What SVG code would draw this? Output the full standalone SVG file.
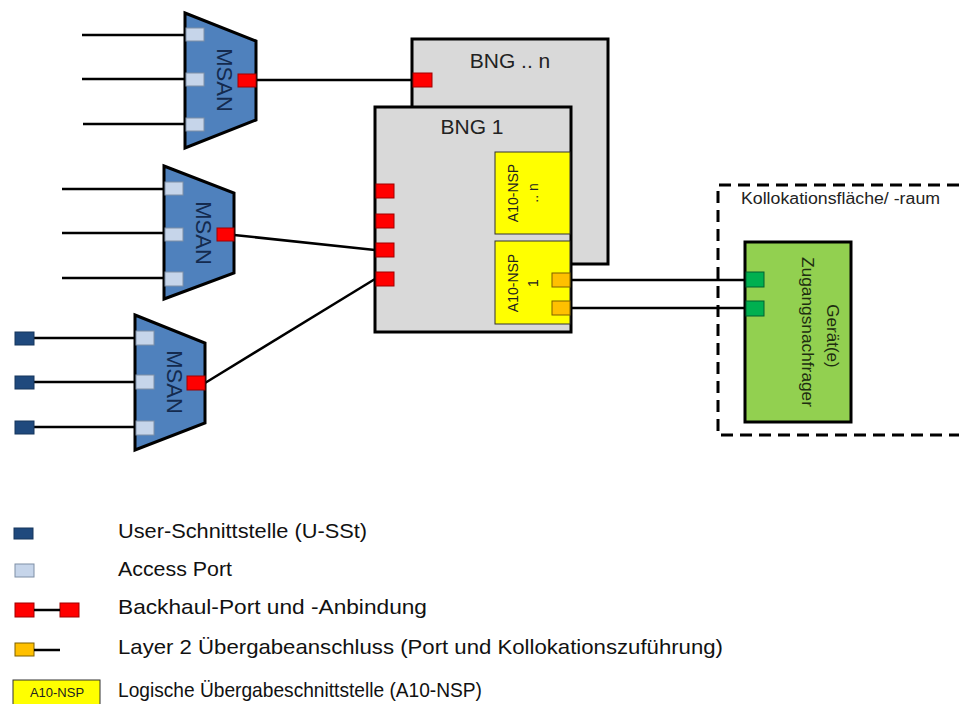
<svg xmlns="http://www.w3.org/2000/svg" width="959" height="704" viewBox="0 0 959 704">
<style>
.msan{fill:#4F81BD;stroke:#000;stroke-width:3;stroke-linejoin:miter}
.ap{fill:#C6D5EA;stroke:#7F8FA6;stroke-width:1}
.up{fill:#1F497D;stroke:#16365C;stroke-width:1}
.bp{fill:#FF0000;stroke:#A00000;stroke-width:1}
.op{fill:#FFC000;stroke:#7F6000;stroke-width:1}
.gp{fill:#00B050;stroke:#006030;stroke-width:1}
.bng{fill:#D9D9D9;stroke:#000;stroke-width:3}
.nsp{fill:#FFFF00;stroke:#333;stroke-width:1}
.ln{stroke:#000;stroke-width:2.5;fill:none}
.t{font-family:"Liberation Sans",Arial,sans-serif}
.mt{font-family:"Liberation Sans",Arial,sans-serif;font-size:22px;fill:#142A4E;text-anchor:middle}
.lg{font-family:"Liberation Sans",Arial,sans-serif;font-size:21px;fill:#111}
</style>

<g id="connectors">
  <line class="ln" x1="82" y1="35" x2="185" y2="35"/>
  <line class="ln" x1="82" y1="79" x2="185" y2="79"/>
  <line class="ln" x1="83" y1="124" x2="185" y2="124"/>
  <line class="ln" x1="62" y1="189" x2="164" y2="189"/>
  <line class="ln" x1="62" y1="233" x2="164" y2="233"/>
  <line class="ln" x1="62" y1="278" x2="164" y2="278"/>
  <line class="ln" x1="34" y1="338" x2="135" y2="338"/>
  <line class="ln" x1="34" y1="382" x2="135" y2="382"/>
  <line class="ln" x1="34" y1="427" x2="135" y2="427"/>
  <line class="ln" x1="256" y1="80" x2="413" y2="80"/>
  <line class="ln" x1="234" y1="235" x2="375" y2="250"/>
  <line class="ln" x1="205" y1="383" x2="375" y2="279"/>
  <line class="ln" x1="570" y1="280" x2="745" y2="280"/>
  <line class="ln" x1="570" y1="308" x2="745" y2="308"/>
</g>

<g id="msan1">
  <polygon class="msan" points="185,13 256,41 256,120 185,148"/>
  <rect class="ap" x="186" y="28" width="18" height="13"/>
  <rect class="ap" x="186" y="73" width="18" height="13"/>
  <rect class="ap" x="186" y="118" width="18" height="13"/>
  <rect class="bp" x="238" y="74" width="18" height="13"/>
  <text class="mt" transform="translate(217,80) rotate(90)">MSAN</text>
</g>

<g id="msan2">
  <polygon class="msan" points="164,166 234,193 234,273 164,299"/>
  <rect class="ap" x="165" y="182" width="18" height="13"/>
  <rect class="ap" x="165" y="228" width="18" height="13"/>
  <rect class="ap" x="165" y="272" width="18" height="14"/>
  <rect class="bp" x="217" y="228" width="17" height="13"/>
  <text class="mt" transform="translate(196,233) rotate(90)">MSAN</text>
</g>

<g id="msan3">
  <polygon class="msan" points="135,315 205,343 205,423 135,450"/>
  <rect class="ap" x="136" y="331" width="18" height="14"/>
  <rect class="ap" x="136" y="375" width="18" height="14"/>
  <rect class="ap" x="136" y="421" width="18" height="14"/>
  <rect class="bp" x="187" y="376" width="18" height="14"/>
  <rect class="up" x="15" y="332" width="19" height="13"/>
  <rect class="up" x="15" y="376" width="19" height="13"/>
  <rect class="up" x="15" y="421" width="19" height="13"/>
  <text class="mt" transform="translate(167,382) rotate(90)">MSAN</text>
</g>

<g id="bng-n">
  <rect class="bng" x="412" y="39" width="196" height="225"/>
  <rect class="bp" x="413" y="73" width="19" height="14"/>
  <text class="t" x="510" y="68" font-size="21" fill="#222" text-anchor="middle">BNG .. n</text>
</g>

<g id="bng-1">
  <rect class="bng" x="375" y="107" width="196" height="225"/>
  <text class="t" x="472" y="134" font-size="21" fill="#222" text-anchor="middle">BNG 1</text>
  <rect class="bp" x="376" y="184" width="18" height="14"/>
  <rect class="bp" x="376" y="214" width="18" height="14"/>
  <rect class="bp" x="376" y="243" width="18" height="14"/>
  <rect class="bp" x="376" y="272" width="18" height="14"/>
</g>

<g id="a10-nsp-n">
  <rect class="nsp" x="495" y="152" width="75" height="82"/>
  <text class="t" transform="translate(518,193) rotate(-90)" font-size="14" fill="#222" text-anchor="middle">A10-NSP</text>
  <text class="t" transform="translate(538,193) rotate(-90)" font-size="14" fill="#222" text-anchor="middle">.. n</text>
</g>

<g id="a10-nsp-1">
  <rect class="nsp" x="495" y="241" width="75" height="83"/>
  <text class="t" transform="translate(518,283) rotate(-90)" font-size="14" fill="#222" text-anchor="middle">A10-NSP</text>
  <text class="t" transform="translate(538,283) rotate(-90)" font-size="14" fill="#222" text-anchor="middle">1</text>
  <rect class="op" x="552" y="273" width="18" height="14"/>
  <rect class="op" x="552" y="301" width="18" height="14"/>
</g>

<g id="kollokation">
  <path d="M959,185 H718 V435 H959" fill="none" stroke="#000" stroke-width="3" stroke-dasharray="12,7"/>
  <text class="t" x="741" y="204" font-size="16" fill="#222" textLength="199" lengthAdjust="spacingAndGlyphs">Kollokationsfläche/ -raum</text>
</g>

<g id="geraet">
  <rect x="745" y="242" width="106" height="180" fill="#92D050" stroke="#000" stroke-width="3"/>
  <rect class="gp" x="746" y="272" width="18" height="15"/>
  <rect class="gp" x="746" y="301" width="18" height="15"/>
  <text class="t" transform="translate(827,336) rotate(90)" font-size="17" fill="#1E2E10" text-anchor="middle">Gerät(e)</text>
  <text class="t" transform="translate(802,332) rotate(90)" font-size="17" fill="#1E2E10" text-anchor="middle" textLength="150" lengthAdjust="spacingAndGlyphs">Zugangsnachfrager</text>
</g>

<g id="legend">
  <rect class="up" x="14" y="528" width="19" height="11"/>
  <text class="lg" x="118" y="538" textLength="249" lengthAdjust="spacingAndGlyphs">User-Schnittstelle (U-SSt)</text>
  <rect class="ap" x="15" y="564" width="19" height="13"/>
  <text class="lg" x="118" y="576" textLength="114" lengthAdjust="spacingAndGlyphs">Access Port</text>
  <rect class="bp" x="15" y="603" width="19" height="14"/>
  <rect class="bp" x="60" y="603" width="19" height="14"/>
  <line class="ln" x1="34" y1="610" x2="60" y2="610"/>
  <text class="lg" x="118" y="614" textLength="309" lengthAdjust="spacingAndGlyphs">Backhaul-Port und -Anbindung</text>
  <rect class="op" x="15" y="643" width="19" height="13"/>
  <line class="ln" x1="34" y1="650" x2="60" y2="650"/>
  <text class="lg" x="118" y="654" textLength="605" lengthAdjust="spacingAndGlyphs">Layer 2 Übergabeanschluss (Port und Kollokationszuführung)</text>
  <rect x="13" y="680" width="87" height="30" fill="#FFFF00" stroke="#333" stroke-width="1"/>
  <text class="t" x="57" y="697" font-size="13" fill="#222" text-anchor="middle">A10-NSP</text>
  <text class="lg" x="118" y="697" textLength="364" lengthAdjust="spacingAndGlyphs">Logische Übergabeschnittstelle (A10-NSP)</text>
</g>
</svg>
